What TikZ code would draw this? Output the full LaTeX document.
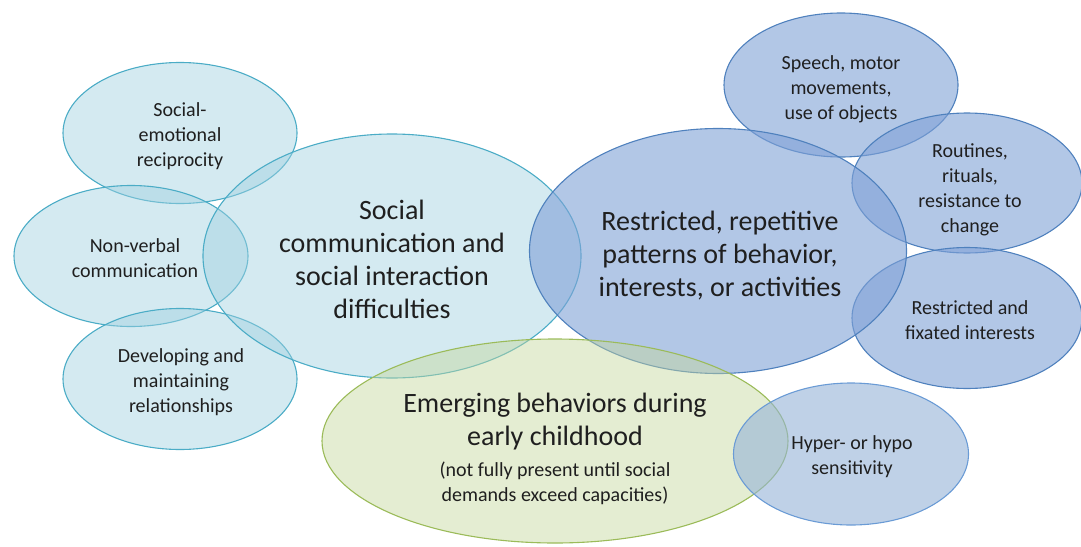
\documentclass[tikz,border=0pt]{standalone}
\usepackage{fontspec}
\setmainfont{Carlito}
\usetikzlibrary{shapes.geometric}
\definecolor{tealfill}{HTML}{9FD0E0}
\definecolor{tealline}{HTML}{4BACC6}
\definecolor{bluefill}{HTML}{7FA1D6}
\definecolor{blueline}{HTML}{4F81BD}
\definecolor{greenfill}{HTML}{C4D79B}
\definecolor{greenline}{HTML}{9BBB59}
\definecolor{lbluefill}{HTML}{95B3D7}
\definecolor{lblueline}{HTML}{6A9BD5}
\definecolor{txt}{HTML}{1F1F1F}
\begin{document}
\begin{tikzpicture}[x=1pt,y=-1pt,
  bub/.style={ellipse, inner sep=0pt, line width=1.1pt},
  tealbub/.style={bub, draw=tealline, fill=tealfill, fill opacity=0.45},
  bluebub/.style={bub, draw=blueline, fill=bluefill, fill opacity=0.6},
  greenbub/.style={bub, draw=greenline, fill=greenfill, fill opacity=0.45},
  lbluebub/.style={bub, draw=lblueline, fill=lbluefill, fill opacity=0.6},
  smallsz/.style={minimum width=234pt, minimum height=141pt},
  bigtxt/.style={text=txt, align=center, inner sep=0pt, font=\fontsize{28}{33}\selectfont},
  smalltxt/.style={text=txt, align=center, inner sep=0pt, font=\fontsize{20}{25}\selectfont}
]
\useasboundingbox (0,0) rectangle (1081,546);
% left cluster
\node[tealbub, smallsz] (se) at (180,133) {};
\node[tealbub, smallsz] (nv) at (131,256) {};
\node[tealbub, smallsz] (dm) at (180,379) {};
\node[tealbub, minimum width=378pt, minimum height=244pt] (sc) at (392,256) {};
% right cluster
\node[bluebub, minimum width=234pt, minimum height=144pt] (sp) at (841,85) {};
\node[bluebub, minimum width=230pt, minimum height=140pt] (rt) at (967,183) {};
\node[bluebub, minimum width=230pt, minimum height=141pt] (rf) at (967,318) {};
\node[bluebub, minimum width=377pt, minimum height=245pt] (rr) at (718,251) {};
% bottom
\node[greenbub, minimum width=466pt, minimum height=204pt] (em) at (555,441) {};
\node[lbluebub, minimum width=235pt, minimum height=142pt] (hy) at (851,454) {};
% texts
\node[smalltxt] (se-t) at (180,136) {Social-\\emotional\\reciprocity};
\node[smalltxt] (nv-t) at (135,258) {Non-verbal\\communication};
\node[smalltxt] (dm-t) at (181,382) {Developing and\\maintaining\\relationships};
\node[bigtxt] (sc-t) at (392,259) {Social\\communication and\\social interaction\\difficulties};
\node[bigtxt] (rr-t) at (720,256) {Restricted, repetitive\\patterns of behavior,\\interests, or activities};
\node[smalltxt] (sp-t) at (841,89) {Speech, motor\\movements,\\use of objects};
\node[smalltxt] (rt-t) at (970,190) {Routines,\\rituals,\\resistance to\\change};
\node[smalltxt] (rf-t) at (970,320) {Restricted and\\fixated interests};
\node[bigtxt] (em-t1) at (555,422) {Emerging behaviors during\\early childhood};
\node[smalltxt] (em-t2) at (555,483) {(not fully present until social\\demands exceed capacities)};
\node[smalltxt] (hy-t) at (852,457) {Hyper- or hypo\\sensitivity};
\end{tikzpicture}
\end{document}
